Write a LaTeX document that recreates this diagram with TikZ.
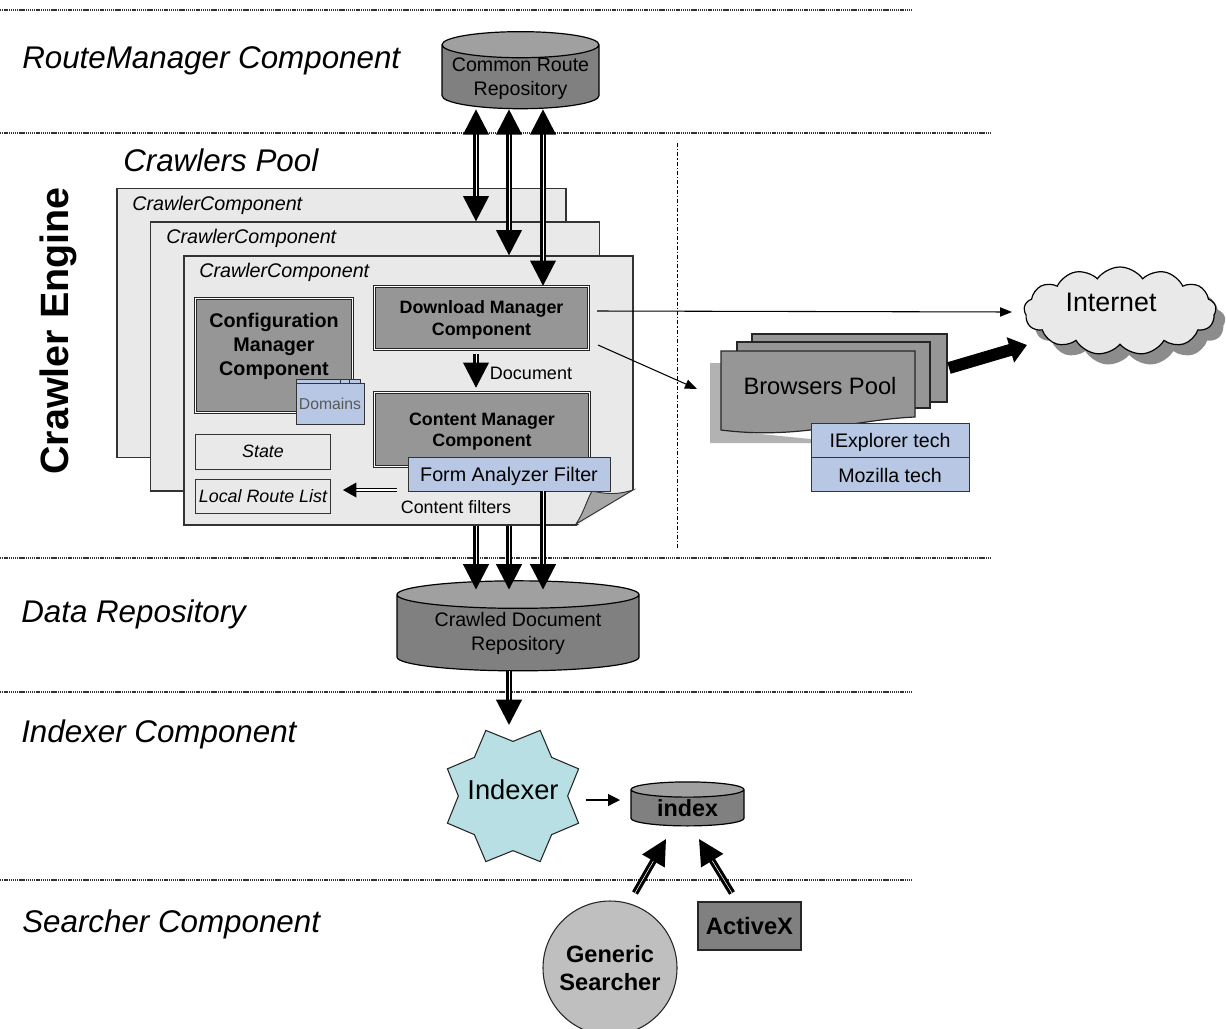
\documentclass[tikz,border=0pt]{standalone}
\usepackage{fontspec}
\setmainfont{Liberation Sans}
\usepackage{tikz}
\usetikzlibrary{arrows.meta,positioning,shapes.geometric,shapes.symbols,shadows}
\definecolor{pagegray}{HTML}{E9E9E9}
\definecolor{boxgray}{HTML}{969696}
\definecolor{cylgray}{HTML}{808080}
\definecolor{filterblue}{HTML}{B8C7E3}
\definecolor{starblue}{HTML}{B8E0E4}
\def\u{0.75pt}
\tikzset{
  bigtip/.tip={Triangle[width=19pt,length=19pt]},
  smalltip/.tip={Triangle[width=7pt,length=9pt]},
  sectlabel/.style={anchor=west,inner sep=0pt,font=\fontsize{23.5}{26}\selectfont\itshape},
  sectline/.style={dash pattern=on 1pt off 0.6pt,line width=0.9pt,black!80},
  crawlerpage/.style={draw=black!80,line width=0.9pt,fill=pagegray,minimum width=449*\u,minimum height=269*\u,inner sep=0pt},
  pagetitle/.style={anchor=west,inner sep=0pt,font=\fontsize{14.8}{17}\selectfont\itshape},
  managerbox/.style={draw=black!85,line width=1pt,double=white,double distance=0.9pt,fill=boxgray,inner sep=0pt,align=center,text depth=0pt,font=\fontsize{13.4}{16}\selectfont\bfseries},
  filterbox/.style={draw=black!80,line width=0.7pt,fill=filterblue,inner sep=0pt,text depth=0pt},
  listbox/.style={draw=black!80,line width=0.7pt,fill=pagegray,inner sep=0pt,minimum width=135*\u,font=\fontsize{13.4}{16}\selectfont\itshape},
  repo/.style={cylinder,shape border rotate=90,draw=black,line width=0.9pt,cylinder uses custom fill,cylinder body fill=cylgray,cylinder end fill=cylgray!75!white,inner sep=0pt,align=center,font=\fontsize{14.7}{18}\selectfont},
  dblarrow/.style={line width=2.3pt,double=white,double distance=0.4pt,-{bigtip}},
  bothways/.style={line width=2.3pt,double=white,double distance=0.4pt,{bigtip}-{bigtip}},
  thinarrow/.style={line width=0.8pt,-{smalltip}},
  browserpage/.style={draw=black!85,line width=0.9pt,fill=boxgray}
}
\begin{document}
\begin{tikzpicture}[x=0.75pt,y=-0.75pt]
\useasboundingbox (0,0) rectangle (1226,1028);

\draw[sectline] (0,10) -- (912,10);
\draw[sectline] (0,133) -- (990,133);
\draw[sectline] (0,558) -- (990,558);
\draw[sectline] (0,692) -- (912,692);
\draw[sectline] (0,880) -- (912,880);
\draw[line width=0.7pt,dash pattern=on 3pt off 1.5pt on 1pt off 1.5pt] (677,143) -- (677,548);

\node[sectlabel] (routelabel) at (22,61) {RouteManager Component};
\node[sectlabel] (poollabel) at (123,160) {Crawlers Pool};
\node[sectlabel] (datalabel) at (21,614) {Data Repository};
\node[sectlabel] (indexlabel) at (21,734) {Indexer Component};
\node[sectlabel] (searchlabel) at (22,924) {Searcher Component};
\node[rotate=90,inner sep=0pt,font=\fontsize{29.6}{34}\selectfont\bfseries] (enginelabel) at (58,331) {Crawler Engine};

\node[repo,minimum width=157*\u,minimum height=57*\u,aspect=0.19,text height=28pt,text depth=0pt] (common) at (520.5,77) {Common Route\\Repository};
\node[repo,minimum width=242*\u,minimum height=90*\u,aspect=0.165] (crawled) at (518,633) {Crawled Document\\Repository};

\node[crawlerpage] (crawlerA) at (341.5,323) {};
\node[pagetitle] at (132,205) {CrawlerComponent};
\node[crawlerpage] (crawlerB) at (375,356.5) {};
\node[pagetitle] at (166,238) {CrawlerComponent};
\node[crawlerpage] (crawlerC) at (408.5,390.5) {};
\node[pagetitle] at (199,272) {CrawlerComponent};
\fill[white] (635,489) -- (635,527) -- (575,527) -- cycle;
\filldraw[draw=black!80,line width=0.7pt,fill=black!35] (592,491) .. controls (610,495) and (620,494) .. (633,490) -- (576,524) .. controls (584,512) and (586,502) .. (592,491) -- cycle;

\node[managerbox,minimum width=157*\u,minimum height=114*\u,text depth=17.2pt,font=\fontsize{14.8}{18}\selectfont\bfseries] (config) at (274,355.5) {Configuration\\Manager\\Component};
\node[managerbox,minimum width=214*\u,minimum height=63*\u] (download) at (481.5,318) {Download Manager\\Component};
\node[managerbox,minimum width=215*\u,minimum height=74*\u] (content) at (482,429.5) {Content Manager\\Component};

\draw[filterbox] (296,379) rectangle (340,385);
\draw[filterbox] (340,379) rectangle (349,385);
\draw[filterbox] (349,379) rectangle (360,385);
\node[filterbox,minimum width=68*\u,minimum height=41*\u,text=black!65,font=\fontsize{11.8}{14}\selectfont] (domains) at (330,403.5) {Domains};

\node[listbox,minimum height=35*\u] (statebox) at (263,451.5) {State};
\node[listbox,minimum height=34*\u] (routelist) at (263,496) {Local Route List};
\node[filterbox,minimum width=202*\u,minimum height=34*\u,font=\fontsize{14.8}{18}\selectfont] (formfilter) at (509,474) {Form Analyzer Filter};
\node[inner sep=0pt,font=\fontsize{13.4}{16}\selectfont] (filterlabel) at (456,507) {Content filters};
\node[inner sep=0pt,font=\fontsize{13.5}{16}\selectfont] (doclabel) at (531,373) {Document};

\coordinate (colA) at (476,0);
\coordinate (colB) at (509,0);
\coordinate (colC) at (543,0);
\coordinate (filterout) at (397,490);

\draw[bothways] (colA |- common.south) -- (colA |- crawlerB.north);
\draw[bothways] (colB |- common.south) -- (colB |- crawlerC.north);
\draw[bothways] (colC |- common.south) -- (colC |- download.north);
\draw[dblarrow,shorten >=3pt] (colA |- download.south) ++(0,4) -- (colA |- content.north);
\draw[line width=1pt,double=white,double distance=0.8pt,shorten >=9pt,-{Triangle[width=11pt,length=10pt]}] (filterout) -- (routelist.east |- filterout);

\draw[dblarrow,shorten >=-7pt] (colA |- crawlerC.south) -- (colA |- crawled.north);
\draw[dblarrow,shorten >=-7pt] (colB |- crawlerC.south) -- (colB |- crawled.north);
\draw[dblarrow,shorten >=-7pt] (colC |- formfilter.south) -- (colC |- crawled.north);

\fill[black!30] (710,363) -- (721,363) -- (721,430) -- (850,443) -- (710,443) -- cycle;
\draw[browserpage] (752,334) rectangle (947,402);
\draw[browserpage] (737,342) rectangle (930,408);
\draw[browserpage] (721,351) -- (915,351) -- (915,417) .. controls (850,420) and (800,440) .. (721,430) -- cycle;
\node[inner sep=0pt,font=\fontsize{17.8}{21}\selectfont] (browsers) at (820,386) {Browsers Pool};
\node[filterbox,minimum width=158*\u,minimum height=34*\u,font=\fontsize{14.7}{18}\selectfont] (ietech) at (890,440) {IExplorer tech};
\node[filterbox,minimum width=158*\u,minimum height=34*\u,font=\fontsize{14.7}{18}\selectfont,below=0pt of ietech] (moztech) {Mozilla tech};

\node[cloud,cloud puffs=13,cloud puff arc=110,aspect=2.2,draw=black,line width=0.9pt,fill=pagegray,inner sep=0pt,minimum width=192*\u,minimum height=88*\u,general shadow={fill=black!45,draw=none,shadow xshift=7pt,shadow yshift=-8pt},font=\fontsize{20.1}{24}\selectfont] (internet) at (1120,311) {};
\node[inner sep=0pt,font=\fontsize{20.1}{24}\selectfont] (internetlabel) at (1111,302) {Internet};

\coordinate (dlA) at (597,311);
\coordinate (dlB) at (598,345);
\coordinate (browserin) at (697,389);
\coordinate (internetA) at (1012,312);
\coordinate (browserout) at (949,368);
\coordinate (internetB) at (1027,345);
\draw[thinarrow] (dlA) -- (internetA);
\draw[thinarrow] (dlB) -- (browserin);
\draw[line width=9pt,-{Triangle[width=19pt,length=13pt]}] (browserout) -- (internetB);

\coordinate (indexerin) at (509,725);
\draw[dblarrow] (crawled.south -| colB) -- (indexerin);

\node[star,star points=8,star point ratio=1.3,shape border rotate=22.5,draw=black!85,line width=0.8pt,fill=starblue,minimum size=142*\u,inner sep=0pt] (indexer) at (513,796) {};
\node[inner sep=0pt,font=\fontsize{20.5}{24}\selectfont] (indexerlabel) at (513,790) {Indexer};

\node[repo,minimum width=113*\u,minimum height=44*\u,aspect=0.25,font=\fontsize{17.5}{20}\selectfont\bfseries] (index) at (687.5,808) {index};
\coordinate (indexerout) at (586,800);
\coordinate (indexin) at (620,800);
\draw[line width=0.9pt,-{Triangle[width=9pt,length=9pt]}] (indexerout) -- (indexin);

\node[circle,draw=black!85,line width=0.8pt,fill=black!25,minimum size=134*\u,inner sep=0pt,align=center,font=\fontsize{17.7}{21}\selectfont\bfseries] (searcher) at (610,968) {Generic\\Searcher};
\node[draw=black!85,line width=0.8pt,fill=cylgray,minimum width=103*\u,minimum height=48*\u,inner sep=0pt,font=\fontsize{17.8}{21}\selectfont\bfseries] (activex) at (749.5,926) {ActiveX};

\coordinate (indexA) at (666,839);
\coordinate (indexB) at (699,839);
\coordinate (searcherout) at (635,893);
\coordinate (activexout) at (732,893);
\draw[dblarrow] (searcherout) -- (indexA);
\draw[dblarrow] (activexout) -- (indexB);
\end{tikzpicture}
\end{document}
